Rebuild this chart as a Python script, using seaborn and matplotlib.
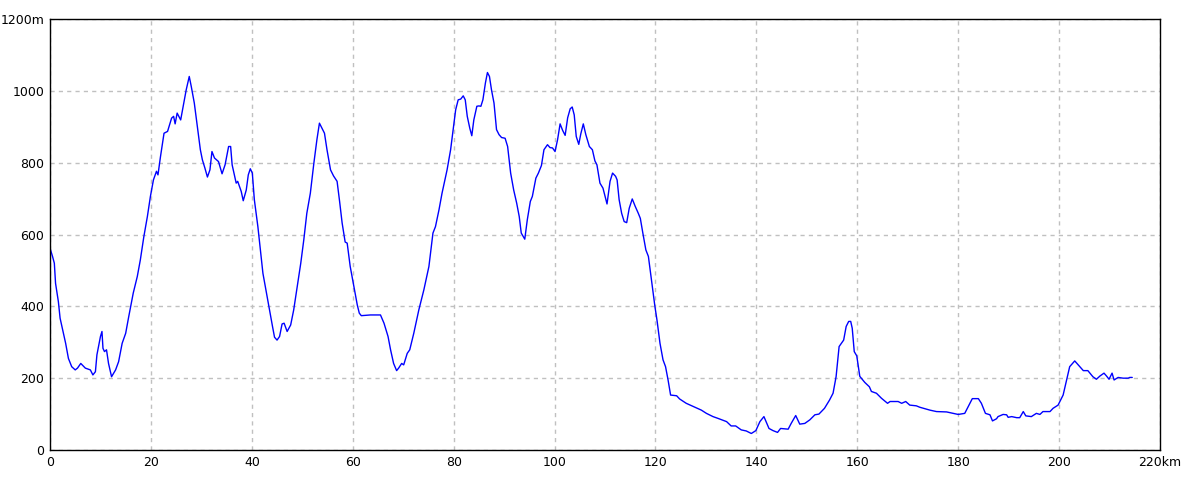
import pandas as pd
import matplotlib
matplotlib.use("Agg")
import matplotlib.pyplot as plt
import seaborn as sns

# elevation profile (distance in km, elevation in m)
distance_km = [
    0, 0.5, 0.86, 1.1, 1.66, 2.0, 2.66, 3.1, 3.65, 4.3, 5.0, 5.45, 6.1, 7.0, 7.6, 8.0, 8.5, 9.0, 9.3,
    10.0, 10.3, 10.5, 10.8, 11.2, 11.6, 12.2, 13.0, 13.6, 14.3, 15.0, 15.6, 16.5, 17.3, 17.9, 18.6,
    19.3, 19.9, 20.5, 21.1, 21.4, 21.9, 22.6, 23.3, 24.1, 24.5, 24.8, 25.2, 25.9, 26.4, 27.0, 27.6,
    28.0, 28.6, 29.2, 29.8, 30.2, 30.7, 31.2, 31.7, 32.1, 32.6, 33.4, 34.1, 34.7, 35.4, 35.8, 36.1,
    36.9, 37.2, 37.9, 38.3, 38.9, 39.3, 39.7, 40.1, 40.5, 41.2, 41.7, 42.2, 42.9, 43.5, 44.1, 44.5,
    45.0, 45.5, 46.0, 46.4, 47.0, 47.7, 48.3, 49.1, 49.7, 50.3, 50.9, 51.6, 52.3, 52.9, 53.4, 53.9,
    54.4, 54.9, 55.6, 56.2, 56.9, 57.4, 57.9, 58.5, 58.9, 59.5, 60.3, 60.9, 61.3, 61.7, 63.5, 65.5,
    66.2, 67.0, 67.5, 68.1, 68.7, 69.1, 69.7, 70.1, 70.8, 71.3, 72.1, 73.1, 74.1, 75.1, 75.9, 76.4,
    77.1, 77.7, 78.7, 79.4, 79.9, 80.4, 80.9, 81.4, 81.9, 82.3, 82.7, 83.2, 83.6, 84.0, 84.6, 85.0,
    85.4, 85.8, 86.3, 86.7, 87.1, 87.5, 88.0, 88.5, 89.0, 89.5, 90.2, 90.7, 91.3, 91.9, 92.5, 93.0,
    93.4, 94.1, 94.6, 95.2, 95.6, 96.3, 96.8, 97.4, 97.9, 98.6, 99.1, 99.6, 100.1, 100.6, 101.1,
    101.6, 102.1, 102.6, 103.1, 103.5, 103.9, 104.3, 104.8, 105.2, 105.7, 106.2, 106.9, 107.5,
    108.0, 108.4, 109.0, 109.6, 110.4, 111.0, 111.5, 112.1, 112.4, 112.8, 113.3, 113.8, 114.3,
    114.8, 115.4, 116.0, 116.6, 117.0, 117.5, 118.1, 118.6, 119.2, 119.9, 120.3, 120.9, 121.5,
    122.0, 122.5, 123.0, 124.2, 124.8, 126.1, 127.5, 129.1, 130.1, 131.4, 132.4, 134.1, 135.0,
    135.9, 137.0, 138.0, 139.0, 139.9, 140.7, 141.5, 142.5, 143.3, 144.2, 144.8, 146.3, 146.9,
    147.8, 148.6, 149.6, 150.6, 151.6, 152.4, 153.5, 154.5, 155.2, 155.8, 156.4, 157.3, 157.8,
    158.3, 158.7, 159.0, 159.4, 159.9, 160.5, 161.5, 162.4, 162.8, 163.8, 164.8, 166.0, 166.5,
    168.1, 168.8, 169.6, 170.4, 171.7, 172.4, 174.4, 175.7, 177.7, 179.0, 180.0, 181.3, 182.0,
    182.8, 184.0, 184.6, 185.4, 186.3, 186.8, 187.6, 187.9, 188.9, 189.6, 189.9, 190.6, 191.6,
    192.2, 192.9, 193.4, 194.5, 195.5, 196.2, 196.8, 198.2, 198.8, 199.8, 200.8, 201.5, 202.1,
    203.1, 204.1, 204.8, 205.7, 206.7, 207.4, 208.1, 208.9, 209.4, 209.9, 210.5, 210.9, 211.7,
    212.7, 213.7, 214.0, 214.5,
]
elevation_m = [
    562, 539, 520, 464, 413, 367, 325, 297, 255, 232, 223, 228, 241, 228, 225, 223, 209, 218, 265,
    316, 330, 283, 274, 279, 241, 204, 223, 246, 297, 325, 371, 437, 483, 529, 594,
    650, 706, 752, 776, 766, 817, 882, 887, 924, 929, 908, 938, 919, 957, 1003, 1040,
    1012, 966, 901, 836, 808, 785, 760, 780, 831, 813, 803, 769, 794, 845, 845, 794,
    743, 748, 720, 694, 724, 766, 783, 771, 697, 622, 557, 492, 437, 390, 344, 314,
    306, 316, 351, 353, 330, 348, 390, 465, 520, 585, 659, 715, 799, 864, 910, 896,
    882, 836, 780, 763, 748, 692, 632, 579, 576, 511, 450, 404, 381, 374, 376, 376,
    353, 316, 279, 241, 221, 228, 241, 237, 269, 279, 325, 390, 446, 511, 604, 622,
    669, 715, 780, 836, 892, 947, 975, 977, 986, 975, 929, 896, 875, 919, 957, 958,
    957, 975, 1022, 1051, 1040, 1003, 966, 892, 878, 870, 868, 845, 771, 724, 687, 650,
    604, 587, 641, 692, 706, 757, 771, 792, 836, 850, 842, 841, 831, 864, 908,
    890, 876, 925, 950, 955, 933, 873, 851, 880, 908, 878, 845, 836,
    805, 794, 743, 729, 685, 748, 771, 762, 752, 697, 659, 636, 633,
    673, 699, 678, 659, 645, 604, 557, 539, 474, 399, 362, 297, 251,
    232, 195, 153, 151, 142, 130, 121, 111, 102, 93, 88, 79, 67,
    67, 56, 53, 46, 54, 79, 93, 60, 54, 49, 60, 58, 74,
    96, 72, 74, 84, 98, 100, 116, 139, 158, 204, 288, 306, 344,
    358, 358, 339, 274, 262, 205, 188, 176, 163, 158, 144, 130, 135,
    135, 130, 135, 125, 123, 119, 111, 107, 106, 102, 99, 102, 121,
    143, 143, 130, 102, 98, 81, 87, 93, 99, 98, 91, 93, 90,
    90, 107, 95, 93, 102, 99, 107, 107, 116, 125, 153, 195, 232,
    248, 232, 221, 221, 204, 197, 206, 214, 206, 197, 214, 195, 202,
    200, 200, 202, 202,
]

x_ticks = [0, 20, 40, 60, 80, 100, 120, 140, 160, 180, 200, 220]
x_labels = ["0", "20", "40", "60", "80", "100", "120", "140", "160", "180", "200", "220km"]
y_ticks = [0, 200, 400, 600, 800, 1000, 1200]
y_labels = ["0", "200", "400", "600", "800", "1000", "1200m"]

df = pd.DataFrame({"km": distance_km, "m": elevation_m})

sns.set_style("white")
plt.rcParams["font.family"] = ["DejaVu Sans"]

fig = plt.figure(figsize=(12, 4.8), dpi=100)
ax = fig.add_axes([50 / 1200, 30 / 480, 1110 / 1200, 431 / 480])

sns.lineplot(data=df, x="km", y="m", color="#0000ff", linewidth=1, ax=ax, sort=False)

ax.set_xlim(0, 220)
ax.set_ylim(0, 1200)
ax.set_xticks(x_ticks)
ax.set_xticklabels(x_labels)
ax.set_yticks(y_ticks)
ax.set_yticklabels(y_labels)
ax.set_xlabel("")
ax.set_ylabel("")
ax.tick_params(length=0, labelsize=9, colors="black", pad=4)
ax.grid(True, color="#c0c0c0", linestyle=(0, (3, 3)), linewidth=1)
for s in ax.spines.values():
    s.set_color("black")
    s.set_linewidth(1)
    s.set_visible(True)

fig.savefig("out.png", dpi=100, facecolor="white")
